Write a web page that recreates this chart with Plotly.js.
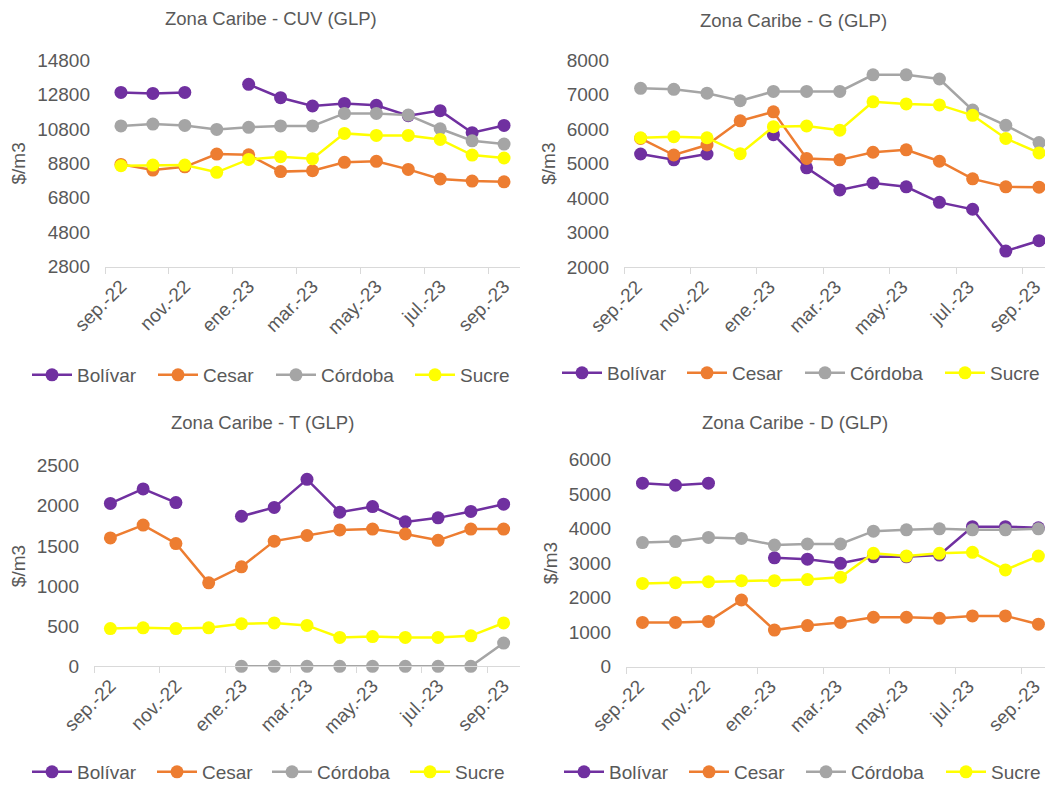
<!DOCTYPE html>
<html>
<head>
<meta charset="utf-8">
<script src="https://cdn.plot.ly/plotly-3.0.1.min.js"></script>
<style>html,body{margin:0;padding:0;background:#fff;}#chart{width:1045px;height:785px;}</style>
</head>
<body>
<div id="chart"></div>
<script>
const months = ["sep.-22","oct.-22","nov.-22","dic.-22","ene.-23","feb.-23","mar.-23","abr.-23","may.-23","jun.-23","jul.-23","ago.-23","sep.-23"];
const seriesNames = ["Bolívar","Cesar","Córdoba","Sucre"];
const seriesColors = ["#7030A0","#ED7D31","#A5A5A5","#FFFF00"];
const panelTitles = ["Zona Caribe - CUV (GLP)","Zona Caribe - G (GLP)","Zona Caribe - T (GLP)","Zona Caribe - D (GLP)"];
const yAxisLabel = "$/m3";

// CUV
const cuvBolivar = [12920, 12860, 12920, null, 13390, 12610, 12130, 12280, 12170, 11570, 11860, 10580, 11000];
const cuvCesar   = [8740, 8410, 8600, 9340, 9300, 8320, 8370, 8860, 8920, 8450, 7890, 7770, 7730];
const cuvCordoba = [10970, 11080, 11000, 10770, 10890, 10970, 10970, 11700, 11700, 11600, 10810, 10110, 9920];
const cuvSucre   = [8660, 8700, 8700, 8280, 9030, 9190, 9070, 10540, 10420, 10420, 10190, 9280, 9110];
// G
const gBolivar = [5280, 5110, 5280, null, 5840, 4880, 4240, 4440, 4330, 3880, 3680, 2470, 2770];
const gCesar   = [5730, 5250, 5540, 6240, 6500, 5150, 5110, 5330, 5400, 5070, 4560, 4330, 4320];
const gCordoba = [7180, 7150, 7040, 6820, 7090, 7090, 7090, 7570, 7570, 7450, 6550, 6110, 5610];
const gSucre   = [5750, 5780, 5750, 5290, 6070, 6090, 5970, 6790, 6730, 6700, 6400, 5730, 5310];
// T
const tBolivar = [2030, 2210, 2040, null, 1870, 1980, 2330, 1920, 1990, 1800, 1850, 1930, 2020];
const tCesar   = [1600, 1760, 1530, 1040, 1240, 1560, 1630, 1700, 1710, 1650, 1570, 1710, 1710];
const tCordoba = [null, null, null, null, 0, 0, 0, 0, 0, 0, 0, 0, 290];
const tSucre   = [470, 480, 470, 480, 530, 540, 510, 360, 370, 360, 360, 380, 540];
// D
const dBolivar = [5310, 5250, 5310, null, 3150, 3110, 2990, 3180, 3180, 3230, 4050, 4050, 4020];
const dCesar   = [1280, 1280, 1310, 1930, 1060, 1190, 1280, 1430, 1430, 1400, 1470, 1470, 1230];
const dCordoba = [3590, 3620, 3740, 3710, 3520, 3550, 3550, 3920, 3960, 3990, 3960, 3960, 3990];
const dSucre   = [2410, 2430, 2460, 2490, 2490, 2520, 2590, 3280, 3200, 3280, 3310, 2800, 3200];

const panelData = [
  [cuvBolivar, cuvCesar, cuvCordoba, cuvSucre],
  [gBolivar, gCesar, gCordoba, gSucre],
  [tBolivar, tCesar, tCordoba, tSucre],
  [dBolivar, dCesar, dCordoba, dSucre]
];
const yTickVals = [
  [2800, 4800, 6800, 8800, 10800, 12800, 14800],
  [2000, 3000, 4000, 5000, 6000, 7000, 8000],
  [0, 500, 1000, 1500, 2000, 2500],
  [0, 1000, 2000, 3000, 4000, 5000, 6000]
];

// ---- layout geometry (pixels) ----
const W = 1045, H = 785;
const px = v => v / W;
const py = v => 1 - v / H;
const panels = [
  {xl:105, xr:520, xmax:12.5,  yb:266.7, yt:60,    lshift:0,  tx:271, ty:19,  legX:[29,155,273,412], legY:375},
  {xl:624, xr:1045, xmax:12.18, yb:267.3, yt:60,   lshift:-4, tx:793, ty:21,  legX:[559,684,802,942], legY:373},
  {xl:94,  xr:520, xmax:12.5,  yb:666.3, yt:465.7, lshift:0,  tx:262, ty:422, legX:[29,154,269,407], legY:772},
  {xl:626, xr:1045, xmax:12.2,  yb:666.7, yt:459.3, lshift:-4, tx:795, ty:422, legX:[561,686,803,943], legY:772}
];

const FONT = "Liberation Sans, Arial, sans-serif";
const TXT = "#595959";
const traces = [];
const layout = {
  width: W, height: H,
  margin: {l:0, r:0, t:0, b:0, autoexpand: false},
  paper_bgcolor: "#ffffff", plot_bgcolor: "#ffffff",
  font: {family: FONT, size: 19, color: TXT},
  showlegend: true,
  annotations: []
};

let legIdx = 0;
panels.forEach((p, i) => {
  const sfx = i === 0 ? "" : String(i + 1);
  const xa = "x" + sfx, ya = "y" + sfx;
  const yv = yTickVals[i];
  layout["xaxis" + sfx] = {
    domain: [px(p.xl), px(p.xr)], anchor: ya,
    type: "category", range: [-0.5, p.xmax],
    tickmode: "linear", tick0: 0, dtick: 2, tickson: "boundaries",
    ticks: "outside", ticklen: 6, tickcolor: "#D9D9D9", tickwidth: 1,
    showline: true, linecolor: "#D9D9D9", linewidth: 1,
    showgrid: false, zeroline: false, tickangle: -45, automargin: false,
    ticklabelshift: p.lshift,
    tickfont: {family: FONT, size: 19, color: TXT}, fixedrange: true
  };
  layout["yaxis" + sfx] = {
    domain: [py(p.yb), py(p.yt)], anchor: xa,
    range: [yv[0], yv[yv.length - 1]], tickmode: "array", tickvals: yv,
    ticktext: yv.map(v => String(v)),
    showline: false, showgrid: false, zeroline: false, ticks: "",
    ticklabelstandoff: 14, automargin: false,
    tickfont: {family: FONT, size: 19, color: TXT},
    title: {text: yAxisLabel, font: {family: FONT, size: 19, color: TXT}, standoff: 6},
    fixedrange: true
  };
  layout.annotations.push({
    text: panelTitles[i], xref: "paper", yref: "paper",
    x: px(p.tx), y: py(p.ty), xanchor: "center", yanchor: "middle",
    showarrow: false, font: {family: FONT, size: 18.5, color: TXT}
  });
  panelData[i].forEach((vals, s) => {
    legIdx += 1;
    const lname = legIdx === 1 ? "legend" : "legend" + legIdx;
    layout[lname] = {
      x: px(p.legX[s] - 2), y: py(p.legY), xanchor: "left", yanchor: "middle",
      orientation: "h", bgcolor: "rgba(0,0,0,0)", borderwidth: 0,
      font: {family: FONT, size: 19, color: TXT}, itemwidth: 40
    };
    traces.push({
      type: "scatter", mode: "lines+markers",
      x: months, y: vals, xaxis: xa, yaxis: ya,
      name: seriesNames[s], legend: lname,
      line: {color: seriesColors[s], width: 2.5},
      marker: {color: seriesColors[s], size: 13},
      connectgaps: false, cliponaxis: false, hoverinfo: "x+y+name"
    });
  });
});

Plotly.newPlot("chart", traces, layout, {displayModeBar: false, staticPlot: true});
</script>
</body>
</html>
